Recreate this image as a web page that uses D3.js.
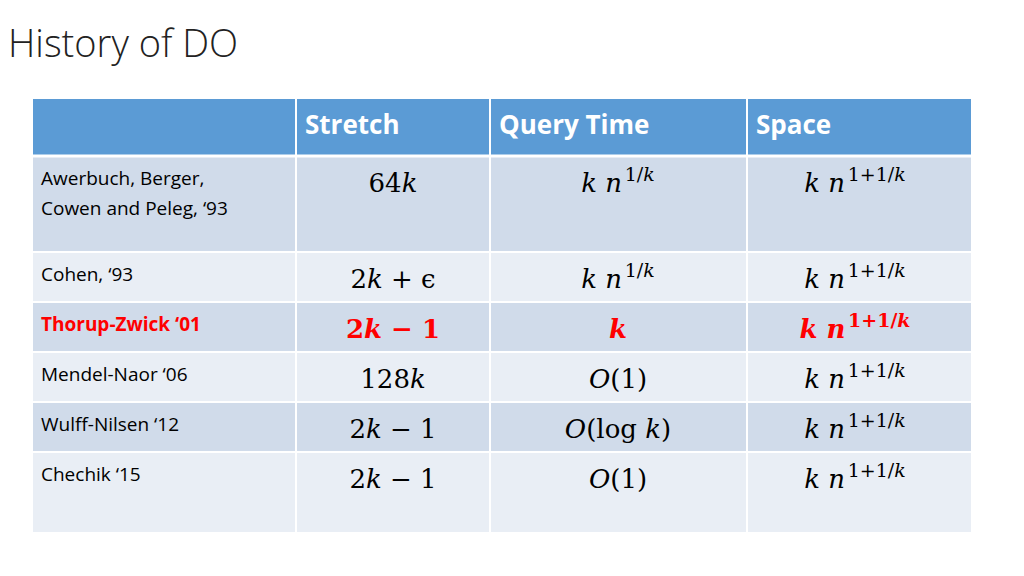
<!DOCTYPE html><html><head><meta charset="utf-8"><script src="https://cdn.jsdelivr.net/npm/d3@7"></script>
<style>body{margin:0;background:#fff}</style></head><body><svg id="c" width="1024" height="576"></svg>
<script>
const headers = ["", "Stretch", "Query Time", "Space"];
const authors = [["Awerbuch, Berger,","Cowen and Peleg, ‘93"],["Cohen, ‘93"],["Thorup-Zwick ‘01"],["Mendel-Naor ‘06"],["Wulff-Nilsen ‘12"],["Chechik ‘15"]];
const stretch = ["64k","2k + ϵ","2k − 1","128k","2k − 1","2k − 1"];
const query = ["k n^1/k","k n^1/k","k","O(1)","O(log k)","O(1)"];
const space = ["k n^1+1/k","k n^1+1/k","k n^1+1/k","k n^1+1/k","k n^1+1/k","k n^1+1/k"];
const highlight = [false,false,true,false,false,false];

const svg = d3.select("#c");
svg.append("text").attr("x",8).attr("y",57).text("History of DO")
  .style("font-family","'Open Sans'").style("font-weight",300).style("font-size","38px").attr("fill","#222");
const colEdges=[33,296,490,747,971];
const rowEdges=[99,156,252,302,352,402,452,532];
const cols=d3.scaleOrdinal().domain([0,1,2,3]).range(colEdges.slice(0,4));
svg.append("rect").attr("x",33).attr("y",99).attr("width",938).attr("height",57).attr("fill","#5B9BD5");
authors.forEach((a,i)=>{
  svg.append("rect").attr("x",33).attr("y",rowEdges[i+1]).attr("width",938).attr("height",rowEdges[i+2]-rowEdges[i+1])
    .attr("fill", i%2===0?"#D0DBEA":"#E9EEF5");
});
// grid lines
colEdges.slice(1,4).forEach(x=>svg.append("line").attr("x1",x).attr("x2",x).attr("y1",99).attr("y2",532).attr("stroke","#fff").attr("stroke-width",2));
rowEdges.slice(2,7).forEach(y=>svg.append("line").attr("x1",33).attr("x2",971).attr("y1",y).attr("y2",y).attr("stroke","#fff").attr("stroke-width",2));
svg.append("line").attr("x1",33).attr("x2",971).attr("y1",156).attr("y2",156).attr("stroke","#fff").attr("stroke-width",3);
headers.forEach((h,j)=>{ if(h) svg.append("text").attr("x",cols(j)+9).attr("y",134).text(h)
  .style("font-family","'Open Sans'").style("font-weight",700).style("font-size","26px").attr("fill","#fff");});

function mathText(sel,str,bold){
  const [base,sup]=str.split("^");
  const put=(s,isSup)=>{
    for(const tok of s.match(/[A-Za-z]+|[^A-Za-z]+/g)||[]){
      const t=sel.append("tspan").text(tok);
      const ital = /^[A-Za-z]$/.test(tok) || tok==="O";
      t.style("font-style",ital?"italic":"normal");
      if(isSup) t.style("font-size","19px");
    }
  };
  put(base,false);
  if(sup){ const first=sel.append("tspan").attr("dy",-11).text("\u200A"); put(sup,true); }
  if(bold) sel.style("font-weight",700);
}
const centers=[393,618,855];
authors.forEach((a,i)=>{
  const top=rowEdges[i+1], col=highlight[i]?"#FF0000":"#000";
  a.forEach((line,k)=>svg.append("text").attr("x",41).attr("y",top+29+k*30).text(line)
    .style("font-family","'Open Sans'").style("font-size","19px").style("font-weight",highlight[i]?700:400).attr("fill",col));
  [stretch[i],query[i],space[i]].forEach((s,j)=>{
    const t=svg.append("text").attr("x",centers[j]).attr("y",top+36).attr("text-anchor","middle")
      .style("font-family","'DejaVu Serif'").style("font-size","26px").attr("fill",col);
    mathText(t,s,highlight[i]);
  });
});
</script></body></html>
